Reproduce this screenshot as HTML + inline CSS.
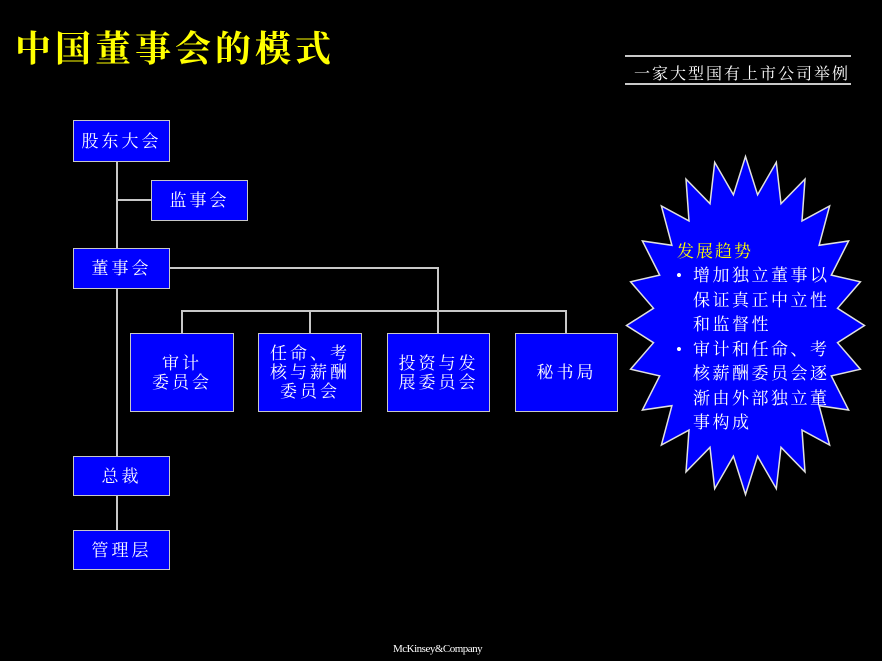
<!DOCTYPE html>
<html><head><meta charset="utf-8"><style>
body{margin:0;background:#000;width:882px;height:661px;position:relative;overflow:hidden;font-family:"Liberation Serif","Noto Serif CJK SC",serif;color:#fff}
.b{position:absolute;background:#0000ff;border:1.5px solid #c8c8c8;box-sizing:border-box;display:flex;align-items:center;justify-content:center;text-align:center;font-size:17px;line-height:19px;letter-spacing:3px}
.l{position:absolute;background:#c8c8c8}
</style></head><body>
<div style="position:absolute;left:15px;top:21px;font-size:36px;font-weight:bold;color:#ffff00;font-family:'Noto Serif CJK SC',serif;letter-spacing:4px">中国董事会的模式</div>
<div class="l" style="left:625px;top:55px;width:226px;height:1.5px"></div>
<div style="position:absolute;left:634px;top:61px;font-size:16px;letter-spacing:2px">一家大型国有上市公司举例</div>
<div class="l" style="left:625px;top:83px;width:226px;height:1.5px"></div>

<div class="l" style="left:116px;top:161px;width:2px;height:295px"></div>
<div class="l" style="left:116px;top:495px;width:2px;height:35px"></div>
<div class="l" style="left:118px;top:199px;width:33px;height:2px"></div>
<div class="l" style="left:169px;top:267px;width:270px;height:2px"></div>
<div class="l" style="left:437px;top:267px;width:2px;height:66px"></div>
<div class="l" style="left:181px;top:310px;width:386px;height:2px"></div>
<div class="l" style="left:181px;top:310px;width:2px;height:23px"></div>
<div class="l" style="left:309px;top:310px;width:2px;height:23px"></div>
<div class="l" style="left:565px;top:310px;width:2px;height:23px"></div>

<div class="b" style="left:73px;top:120px;width:97px;height:42px">股东大会</div>
<div class="b" style="left:151px;top:180px;width:97px;height:41px">监事会</div>
<div class="b" style="left:73px;top:248px;width:97px;height:41px">董事会</div>
<div class="b" style="left:130px;top:333px;width:104px;height:79px">审计<br>委员会</div>
<div class="b" style="left:258px;top:333px;width:104px;height:79px">任命、考<br>核与薪酬<br>委员会</div>
<div class="b" style="left:387px;top:333px;width:103px;height:79px">投资与发<br>展委员会</div>
<div class="b" style="left:515px;top:333px;width:103px;height:79px">秘书局</div>
<div class="b" style="left:73px;top:456px;width:97px;height:40px">总裁</div>
<div class="b" style="left:73px;top:530px;width:97px;height:40px">管理层</div>

<svg style="position:absolute;left:0;top:0" width="882" height="661">
<polygon id="st" fill="#0000ff" stroke="#e0e0e0" stroke-width="1.5" points=""/>
</svg>
<script>
var p=[],n=24,cx=745.5,cy=325.5,rx=119,ry=169,k=0.78;
for(var i=0;i<2*n;i++){var a=Math.PI*i/n-Math.PI/2,r=i%2?k:1;p.push((cx+rx*r*Math.cos(a)).toFixed(1)+","+(cy+ry*r*Math.sin(a)).toFixed(1));}
document.getElementById('st').setAttribute('points',p.join(' '));
</script>
<div style="position:absolute;left:677px;top:237px;font-size:17px;color:#ffff00;letter-spacing:2px">发展趋势</div>
<div style="position:absolute;left:676px;top:264px;width:170px;font-size:17px;line-height:24.5px;letter-spacing:2.5px">
<div style="position:relative;padding-left:17px"><span style="position:absolute;left:0">•</span>增加独立董事以保证真正中立性和监督性</div>
<div style="position:relative;padding-left:17px"><span style="position:absolute;left:0">•</span>审计和任命、考核薪酬委员会逐渐由外部独立董事构成</div>
</div>
<div style="position:absolute;left:393px;top:643px;font-size:11px;letter-spacing:-0.5px">McKinsey&amp;Company</div>
</body></html>
